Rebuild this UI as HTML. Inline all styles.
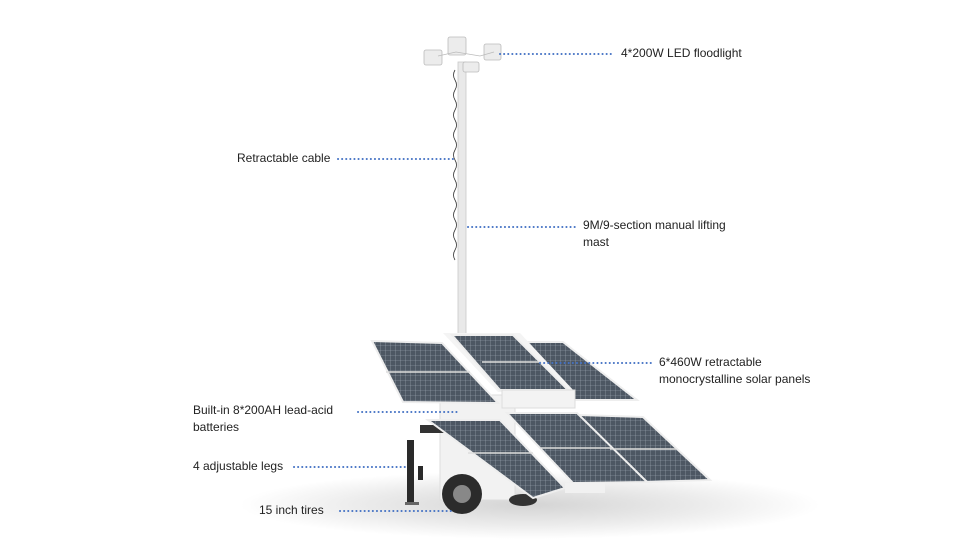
<!DOCTYPE html>
<html><head><meta charset="utf-8"><style>
html,body{margin:0;padding:0;background:#fff}
.t{position:absolute;font-family:"Liberation Sans",sans-serif;font-size:12px;color:#222;line-height:17px;white-space:nowrap}
</style></head><body>
<div style="position:relative;width:960px;height:540px;overflow:hidden">
<svg width="960" height="540" style="position:absolute;left:0;top:0">
<defs>
<radialGradient id="sh" cx="0.5" cy="0.5" r="0.5"><stop offset="0" stop-color="#d4d4d4"/><stop offset="0.6" stop-color="#ececec"/><stop offset="1" stop-color="#fff"/></radialGradient>
<pattern id="g" width="5" height="5" patternUnits="userSpaceOnUse"><rect width="5" height="5" fill="#4d5763"/><path d="M0 0H5M0 0V5" stroke="#a3adb8" stroke-width="0.6"/></pattern>
</defs>
<ellipse cx="530" cy="505" rx="290" ry="34" fill="url(#sh)"/>
<rect x="458" y="62" width="8" height="275" fill="#e9e9e9" stroke="#c9c9c9" stroke-width="0.8"/>
<path d="M455 70 q-3 5 0 10 q3 5 0 10 q-3 5 0 10 q3 5 0 10 q-3 5 0 10 q3 5 0 10 q-3 5 0 10 q3 5 0 10 q-3 5 0 10 q3 5 0 10 q-3 5 0 10 q3 5 0 10 q-3 5 0 10 q3 5 0 10 q-3 5 0 10 q3 5 0 10 q-3 5 0 10 q3 5 0 10 q-3 5 0 10" fill="none" stroke="#333" stroke-width="0.8"/>
<g fill="#ececec" stroke="#bbb" stroke-width="0.8">
<rect x="448" y="37" width="18" height="18" rx="2"/>
<rect x="484" y="44" width="17" height="16" rx="2"/>
<rect x="424" y="50" width="18" height="15" rx="2"/>
<rect x="463" y="62" width="16" height="10" rx="2"/>
<path d="M438 56 L456 52 L480 56 L494 52" fill="none"/>
</g>
<rect x="440" y="395" width="75" height="105" fill="#f2f2f2" stroke="#ddd"/>
<rect x="420" y="425" width="30" height="8" fill="#333"/>
<circle cx="462" cy="494" r="20" fill="#2b2b2b"/><circle cx="462" cy="494" r="9" fill="#888"/>
<ellipse cx="523" cy="500" rx="14" ry="6" fill="#333"/>
<rect x="407" y="440" width="7" height="65" fill="#2a2a2a"/><rect x="405" y="502" width="14" height="3" fill="#666"/>
<rect x="418" y="466" width="5" height="14" fill="#2a2a2a"/>
<polygon points="372,341 442,343 498,403 403,402" fill="url(#g)" stroke="#eee" stroke-width="2"/>
<polygon points="523,342 563,342 637,400 573,400" fill="url(#g)" stroke="#eee" stroke-width="2"/>
<polygon points="443,333 520,333 575,392 498,392" fill="#f4f4f4"/>
<polygon points="452,335 513,335 568,390 500,390" fill="url(#g)" stroke="#eee" stroke-width="2"/>
<rect x="502" y="390" width="73" height="18" fill="#f3f3f3" stroke="#ddd"/>
<polygon points="578,415 643,417 710,480 647,482" fill="url(#g)" stroke="#eee" stroke-width="2"/>
<polygon points="507,413 577,413 647,482 573,483" fill="url(#g)" stroke="#eee" stroke-width="2"/>
<polygon points="428,420 500,420 565,488 533,498" fill="url(#g)" stroke="#eee" stroke-width="2"/>
<line x1="386" y1="372" x2="470" y2="372" stroke="#ddd" stroke-width="1.5"/>
<line x1="482" y1="362" x2="541" y2="362" stroke="#ddd" stroke-width="1.5"/>
<line x1="468" y1="453" x2="533" y2="453" stroke="#ddd" stroke-width="1.5"/>
<line x1="540" y1="448" x2="612" y2="448" stroke="#ddd" stroke-width="1.5"/>
<line x1="610" y1="449" x2="676" y2="449" stroke="#ddd" stroke-width="1.5"/>
<rect x="565" y="483" width="40" height="10" fill="#f1f1f1"/>
<g stroke="#4472c4" stroke-width="2" stroke-dasharray="0.1 4" stroke-linecap="round">
<line x1="500" y1="54" x2="612" y2="54"/>
<line x1="338" y1="159" x2="455" y2="159"/>
<line x1="468" y1="227" x2="576" y2="227"/>
<line x1="540" y1="363" x2="651" y2="363"/>
<line x1="358" y1="412" x2="458" y2="412"/>
<line x1="294" y1="467" x2="405" y2="467"/>
<line x1="340" y1="511" x2="452" y2="511"/>
</g>
</svg>
<div class="t" style="left:621px;top:45px">4*200W LED floodlight</div>
<div class="t" style="left:237px;top:150px">Retractable cable</div>
<div class="t" style="left:583px;top:217px">9M/9-section manual lifting<br>mast</div>
<div class="t" style="left:659px;top:354px">6*460W retractable<br>monocrystalline solar panels</div>
<div class="t" style="left:193px;top:402px">Built-in 8*200AH lead-acid<br>batteries</div>
<div class="t" style="left:193px;top:458px">4 adjustable legs</div>
<div class="t" style="left:259px;top:502px">15 inch tires</div>
</div>
</body></html>
